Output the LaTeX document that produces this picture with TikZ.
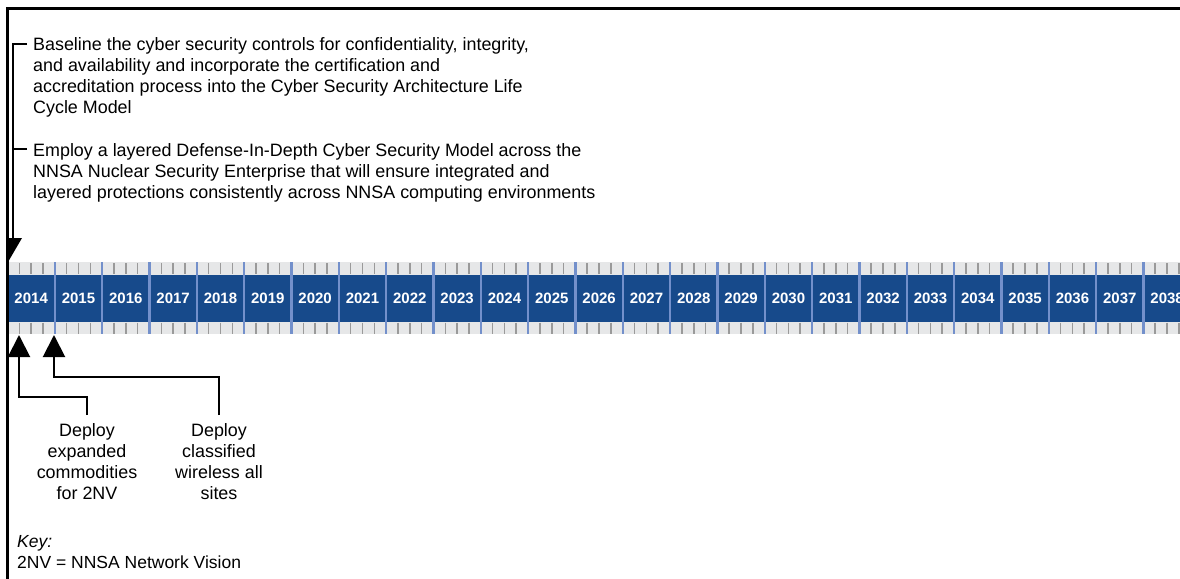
\documentclass[tikz,border=0pt]{standalone}
\usepackage{fontspec}
\setmainfont{Liberation Sans}
\usetikzlibrary{arrows.meta}
\definecolor{band}{HTML}{174A8B}
\definecolor{strip}{HTML}{E6E7E8}
\definecolor{tickgray}{HTML}{9A9A9A}
\definecolor{divider}{HTML}{7390CB}
\begin{document}
\begin{tikzpicture}[x=1pt,y=-1pt,
  frameline/.style={line width=3pt,black},
  conn/.style={line width=2pt,black},
  uparrow/.style={conn,-{Triangle[width=22pt,length=22pt]}},
  bodytext/.style={inner sep=0pt,font=\fontsize{17.9}{21}\selectfont},
  keytext/.style={inner sep=0pt,font=\fontsize{17.5}{21}\selectfont},
  yearlabel/.style={inner sep=0pt,text=white,font=\fontsize{15}{16}\selectfont\bfseries},
  tickline/.style={line width=1.6pt,tickgray},
  divline/.style={line width=2.5pt,divider}]
\useasboundingbox (0,0) rectangle (1180,578);
% timeline
\begin{scope}
  \clip (0,0) rectangle (1180,578);
  \fill[strip] (7.5,262) rectangle (1180,334);
  \fill[band] (7.5,275) rectangle (1180,321.5);
  \foreach \i in {0,...,24}{
    \pgfmathsetmacro\xo{7.5+47.33*\i}
    \pgfmathtruncatemacro\yr{2014+\i}
    \foreach \k in {1,2,3}{
      \draw[tickline] (\xo+11.83*\k,263) -- (\xo+11.83*\k,274);
      \draw[tickline] (\xo+11.83*\k,322.5) -- (\xo+11.83*\k,333.5);
    }
    \ifnum\i>0 \draw[divline] (\xo,262) -- (\xo,334); \fi
    \node[yearlabel] (y\yr) at (\xo+23.67,298) {\yr};
  }
\end{scope}
% frame
\draw[frameline] (1181,8.5) -- (7.5,8.5) -- (7.5,579);
% top texts
\node[bodytext,anchor=north west,align=left] (t1) at (33,37.5)
  {Baseline the cyber security controls for confidentiality, integrity,\\
   and availability and incorporate the certification and\\
   accreditation process into the Cyber Security Architecture Life\\
   Cycle Model};
\node[bodytext,anchor=north west,align=left] (t2) at (33,143)
  {Employ a layered Defense-In-Depth Cyber Security Model across the\\
   NNSA Nuclear Security Enterprise that will ensure integrated and\\
   layered protections consistently across NNSA computing environments};
\coordinate (k1) at (13,44);
\coordinate (k2) at (13,149);
\coordinate (topend) at (13,239);
\draw[conn] (t1.west|-k1) ++(-6,0) -- (k1) -- (topend);
\draw[conn] (t2.west|-k2) ++(-6,0) -- (k2);
\fill (6,238) -- (22,238) -- (8,262) -- cycle;
% bottom texts
\node[bodytext,anchor=north,align=center] (b1) at (87,423)
  {Deploy\\expanded\\commodities\\for 2NV};
\node[bodytext,anchor=north,align=center] (b2) at (219,423)
  {Deploy\\classified\\wireless all\\sites};
\coordinate (tip1) at (19,335);
\coordinate (tip2) at (54,335);
\draw[uparrow] (b1.north) ++(0,-8) |- (19,397) -- (tip1);
\draw[uparrow] (b2.north) ++(0,-8) |- (54,377) -- (tip2);
% key
\node[keytext,anchor=north west,align=left] (key) at (17,535)
  {\textit{Key:}\\2NV = NNSA Network Vision};
\end{tikzpicture}
\end{document}
